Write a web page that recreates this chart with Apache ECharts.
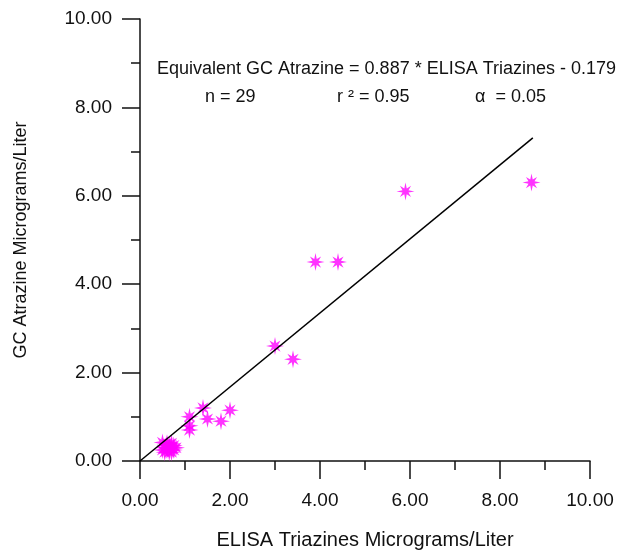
<!DOCTYPE html>
<html>
<head>
<meta charset="utf-8">
<script src="https://cdn.jsdelivr.net/npm/echarts@6/dist/echarts.min.js"></script>
<style>html,body{margin:0;padding:0;background:#fff;}#c{width:618px;height:555px;}</style>
</head>
<body>
<div id="c"></div>
<script>
// Data
var elisaX = [8.7, 5.9, 3.9, 4.4, 3.0, 3.4, 1.4, 2.0, 1.5, 1.8, 1.1, 1.1, 1.1,
  0.5, 0.55, 0.6, 0.65, 0.7, 0.75, 0.8, 0.55, 0.6, 0.65, 0.7, 0.5, 0.6, 0.7, 0.75, 0.65];
var gcY = [6.3, 6.1, 4.5, 4.5, 2.6, 2.3, 1.2, 1.15, 0.95, 0.9, 1.0, 0.7, 0.8,
  0.42, 0.3, 0.25, 0.35, 0.3, 0.25, 0.3, 0.2, 0.4, 0.2, 0.4, 0.25, 0.35, 0.2, 0.35, 0.3];
var fitX = [0, 8.73];
var fitY = [0, 7.31];
var tickLabels = ['0.00','2.00','4.00','6.00','8.00','10.00'];
var eqText = 'Equivalent GC Atrazine = 0.887 * ELISA Triazines - 0.179';
var statN = 'n = 29', statR = 'r \u00B2 = 0.95', statA = '\u03B1  = 0.05';

function starPath(){
  var s = 'path://';
  for (var i = 0; i < 16; i++) {
    var a = i * Math.PI / 8;
    var r = (i % 2 === 0) ? ((i % 4 === 2) ? 44 : 50) : 18;
    var x = 50 + r * Math.cos(a), y = 50 + r * Math.sin(a);
    s += (i === 0 ? 'M' : 'L') + x.toFixed(2) + ' ' + y.toFixed(2) + ' ';
  }
  return s + 'Z';
}

var pts = elisaX.map(function(x, i){ return [x, gcY[i]]; });
var fit = fitX.map(function(x, i){ return [x, fitY[i]]; });
var F = 'Liberation Sans, Arial, sans-serif';
var fmt = function(v){ return tickLabels[Math.round(v/2)]; };

var chart = echarts.init(document.getElementById('c'));
chart.setOption({
  backgroundColor: '#fff',
  animation: false,
  grid: {left: 140, right: 28, top: 19, bottom: 86},
  xAxis: {
    type: 'value', min: 0, max: 10, interval: 2,
    name: 'ELISA Triazines Micrograms/Liter', nameLocation: 'middle', nameGap: 69,
    nameTextStyle: {fontFamily: F, fontSize: 20, color: '#111'},
    axisLine: {show: true, onZero: false, lineStyle: {color: '#111', width: 1.5}},
    axisTick: {show: true, inside: false, length: 18, lineStyle: {color: '#111', width: 1.5}},
    minorTick: {show: true, splitNumber: 2, length: 9, lineStyle: {color: '#111', width: 1.5}},
    splitLine: {show: false},
    axisLabel: {fontFamily: F, fontSize: 19, color: '#111', margin: 30, formatter: fmt}
  },
  yAxis: {
    type: 'value', min: 0, max: 10, interval: 2,
    name: 'GC Atrazine Micrograms/Liter', nameLocation: 'middle', nameGap: 110,
    nameTextStyle: {fontFamily: F, fontSize: 18, color: '#111'},
    axisLine: {show: true, onZero: false, lineStyle: {color: '#111', width: 1.5}},
    axisTick: {show: true, inside: false, length: 18, lineStyle: {color: '#111', width: 1.5}},
    minorTick: {show: true, splitNumber: 2, length: 9, lineStyle: {color: '#111', width: 1.5}},
    splitLine: {show: false},
    axisLabel: {fontFamily: F, fontSize: 19, color: '#111', margin: 28, formatter: fmt}
  },
  graphic: [
    {type: 'text', left: 157, top: 60, style: {text: eqText, font: '18px ' + F, fill: '#111'}},
    {type: 'text', left: 205, top: 88, style: {text: statN, font: '18px ' + F, fill: '#111'}},
    {type: 'text', left: 337, top: 88, style: {text: statR, font: '18px ' + F, fill: '#111'}},
    {type: 'text', left: 475, top: 88, style: {text: statA, font: '18px ' + F, fill: '#111'}}
  ],
  series: [
    {type: 'line', data: fit, showSymbol: false, symbol: 'none',
      lineStyle: {color: '#000', width: 1.5}, z: 3},
    {type: 'scatter', data: pts, symbol: starPath(), symbolSize: 18,
      itemStyle: {color: '#ff00ff'}, z: 2}
  ]
});
</script>
</body>
</html>
